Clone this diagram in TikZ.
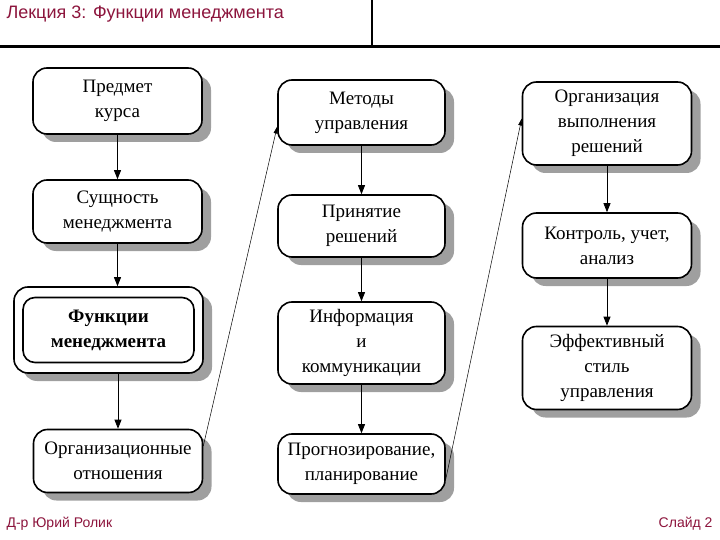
\documentclass[tikz,border=0pt]{standalone}
\usepackage{fontspec}
\setmainfont{Liberation Serif}
\newfontfamily\zagfont{Liberation Sans}
\usetikzlibrary{arrows.meta,shadows}
\definecolor{bordo}{RGB}{140,20,60}
\tikzset{
  blok/.style={draw, line width=1.6pt, rounded corners=14pt, fill=white,
    minimum width=169pt, align=center, font=\fontsize{19}{25}\selectfont,
    drop shadow={shadow xshift=9pt, shadow yshift=-8pt, fill=gray!75, opacity=1}},
  strelka/.style={line width=0.8pt, -{Triangle[length=9pt,width=7pt]}},
  diag/.style={line width=0.5pt, -{Triangle[length=7pt,width=4pt]}},
  podpis/.style={text=bordo, font=\zagfont\fontsize{14}{16}\selectfont},
}
\begin{document}
\begin{tikzpicture}[x=1pt,y=-1pt]
\useasboundingbox (0,0) rectangle (720,540);

% Шапка слайда
\node[anchor=west, text=bordo, font=\zagfont\fontsize{18}{20}\selectfont] (zag) at (3,14) {Лекция 3: Функции менеджмента};
\draw[line width=1.2pt] (372,0) -- (372,46);
\draw[line width=3pt] (0,47) -- (720,47);

% Первый столбец
\node[blok, minimum height=66pt] (predmet) at (117.5,101) {Предмет\\курса};
\node[blok, minimum height=63pt] (sushch) at (117.5,211.5) {Сущность\\менеджмента};
\node[blok, minimum width=189pt, minimum height=86pt] (funkram) at (108.5,330) {};
\node[draw, line width=1.6pt, rounded corners=12pt, minimum width=171pt, minimum height=65pt,
  align=center, font=\fontsize{19}{25}\selectfont\bfseries] (funk) at (108.5,330) {Функции\\менеджмента};
\node[blok, minimum height=63pt] (org) at (118,461) {Организационные\\отношения};

% Второй столбец
\node[blok, minimum width=167pt, minimum height=65pt] (metody) at (361.5,112.5) {Методы\\управления};
\node[blok, minimum width=167pt, minimum height=62pt] (prinyatie) at (361.5,226) {Принятие\\решений};
\node[blok, minimum width=167pt, minimum height=82pt] (inform) at (361.5,343) {Информация\\и\\коммуникации};
\node[blok, minimum width=167pt, minimum height=60pt] (progn) at (361.5,464) {Прогнозирование,\\планирование};

% Третий столбец
\node[blok, minimum height=83pt] (organ) at (607,123.5) {Организация\\выполнения\\решений};
\node[blok, minimum height=65pt] (kontrol) at (607,245.5) {Контроль, учет,\\анализ};
\node[blok, minimum height=83pt] (stil) at (607,368) {Эффективный\\стиль\\управления};

% Стрелки
\draw[strelka] (predmet) -- (sushch);
\draw[strelka] (sushch.south) -- (sushch.south |- funkram.north);
\draw[strelka] (org.north |- funkram.south) -- (org.north);
\draw[strelka] (metody) -- (prinyatie);
\draw[strelka] (prinyatie) -- (inform);
\draw[strelka] (inform) -- (progn);
\draw[strelka] (organ) -- (kontrol);
\draw[strelka] (kontrol) -- (stil);
\draw[diag] ([yshift=15pt]org.east) -- ([yshift=-14pt]metody.west);
\draw[diag] ([yshift=-15pt]progn.east) -- ([yshift=5pt]organ.west);

% Подвал
\node[podpis, anchor=west] (avtor) at (3,524) {Д-р Юрий Ролик};
\node[podpis, anchor=east] (slaid) at (716,524) {Слайд 2};
\end{tikzpicture}
\end{document}
